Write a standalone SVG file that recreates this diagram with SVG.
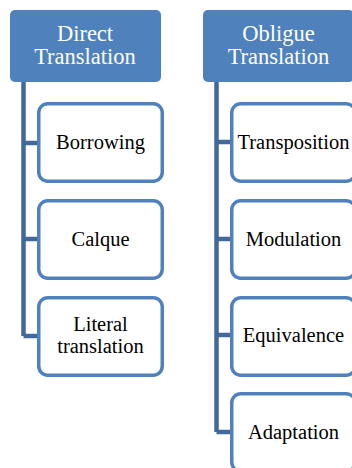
<svg xmlns="http://www.w3.org/2000/svg" width="352" height="468" viewBox="0 0 352 468">
  <style>
    .head rect { fill: #4f81bd; }
    .head text { fill: #ffffff; font-family: "Times New Roman", "Liberation Serif", "DejaVu Serif", serif; font-size: 22.5px; text-anchor: middle; }
    .item rect { fill: #ffffff; stroke: #4f81bd; stroke-width: 3.5; }
    .item text { fill: #000000; font-family: "Times New Roman", "Liberation Serif", "DejaVu Serif", serif; font-size: 20.5px; text-anchor: middle; }
    .links path { fill: none; stroke: #41699b; stroke-width: 4.5; stroke-linejoin: miter; }
  </style>
  <rect width="352" height="468" fill="#ffffff"/>

  <!-- connectors -->
  <g id="connectors" class="links">
    <path d="M23.5 82 V336 M23.5 143 H38 M23.5 239 H38 M23.5 336 H38"/>
    <path d="M216.5 82 V432 M216.5 142 H231 M216.5 239 H231 M216.5 335 H231 M216.5 432 H231"/>
  </g>

  <!-- column 1 -->
  <g id="direct" class="head">
    <rect x="10" y="10" width="151" height="72" rx="5"/>
    <text x="85" y="41">Direct</text>
    <text x="85" y="64">Translation</text>
  </g>
  <g id="borrowing" class="item">
    <rect x="38.75" y="103.75" width="123.5" height="77.5" rx="9"/>
    <text x="100.5" y="149">Borrowing</text>
  </g>
  <g id="calque" class="item">
    <rect x="38.75" y="200.75" width="123.5" height="77.5" rx="9"/>
    <text x="100.5" y="246">Calque</text>
  </g>
  <g id="literal" class="item">
    <rect x="38.75" y="297.75" width="123.5" height="77.5" rx="9"/>
    <text x="100.5" y="331">Literal</text>
    <text x="100.5" y="353">translation</text>
  </g>

  <!-- column 2 -->
  <g id="oblique" class="head">
    <rect x="203" y="10" width="151" height="72" rx="5"/>
    <text x="278.5" y="41">Obligue</text>
    <text x="278.5" y="64">Translation</text>
  </g>
  <g id="transposition" class="item">
    <rect x="231.75" y="103.75" width="123.5" height="77.5" rx="9"/>
    <text x="293.5" y="149">Transposition</text>
  </g>
  <g id="modulation" class="item">
    <rect x="231.75" y="200.75" width="123.5" height="77.5" rx="9"/>
    <text x="293.5" y="246">Modulation</text>
  </g>
  <g id="equivalence" class="item">
    <rect x="231.75" y="297.75" width="123.5" height="77.5" rx="9"/>
    <text x="293.5" y="342">Equivalence</text>
  </g>
  <g id="adaptation" class="item">
    <rect x="231.75" y="393.75" width="123.5" height="77.5" rx="9"/>
    <text x="293.5" y="439">Adaptation</text>
  </g>
</svg>
